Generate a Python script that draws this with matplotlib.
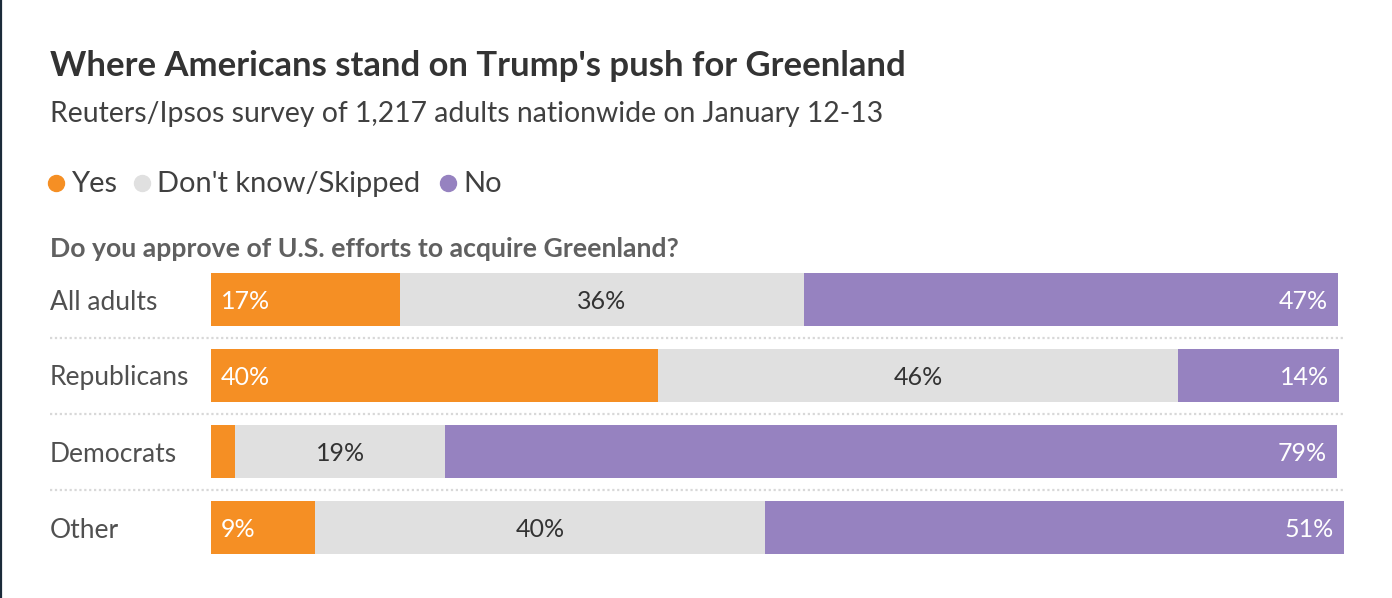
import numpy as np
import matplotlib.pyplot as plt
from matplotlib.lines import Line2D

# --- datos ---
groups = ['All adults', 'Republicans', 'Democrats', 'Other']
yes = [16.8, 39.7, 2.1, 9.2]
dont_know = [35.8, 46.1, 18.7, 40.0]
no = [47.4, 14.3, 79.1, 51.3]
yes_lbl = ['17%', '40%', '', '9%']
dk_lbl = ['36%', '46%', '19%', '40%']
no_lbl = ['47%', '14%', '79%', '51%']

c_yes = '#F58F24'
c_dk = '#E0E0E0'
c_no = '#9682C0'

W, H = 1392, 598
plt.rcParams['font.family'] = ['Lato', 'DejaVu Sans']

fig = plt.figure(figsize=(W / 100, H / 100), dpi=100)

def fx(px):
    return px / W

def fy(py):
    return 1 - py / H

# título y subtítulo
fig.text(fx(50), fy(76), "Where Americans stand on Trump's push for Greenland",
         fontsize=24.9, fontweight='bold', color='#333333', va='baseline')
fig.text(fx(50), fy(122), 'Reuters/Ipsos survey of 1,217 adults nationwide on January 12-13',
         fontsize=20.4, color='#404040', va='baseline')

# leyenda hecha a mano
leg = [('Yes', c_yes, 56, 72), ("Don't know/Skipped", c_dk, 142, 157), ('No', c_no, 448, 463)]
for name, col, dot_x, txt_x in leg:
    fig.add_artist(Line2D([fx(dot_x)], [fy(183)], marker='o', markersize=11.5,
                          color=col, linestyle='none', transform=fig.transFigure))
    fig.text(fx(txt_x), fy(192), name, fontsize=20.9, color='#404040', va='baseline')

fig.text(fx(50), fy(257), 'Do you approve of U.S. efforts to acquire Greenland?',
         fontsize=19.2, fontweight='bold', color='#606060', va='baseline')

# --- barras apiladas ---
ax = fig.add_axes([fx(211), fy(565.5), fx(1127), 304 / H])
y = np.arange(len(groups))
yes = np.array(yes)
dont_know = np.array(dont_know)
no = np.array(no)

ax.barh(y, yes, height=0.70, color=c_yes, clip_on=False)
ax.barh(y, dont_know, left=yes, height=0.70, color=c_dk, clip_on=False)
ax.barh(y, no, left=yes + dont_know, height=0.70, color=c_no, clip_on=False)

ax.set_xlim(0, 100)
ax.set_ylim(3.5, -0.5)
ax.axis('off')

for i in range(len(groups)):
    ax.text(-0.1429, i, groups[i], transform=ax.get_yaxis_transform(),
            fontsize=19, color='#505050', va='center_baseline', ha='left')
    ax.text(0.9, i, yes_lbl[i], fontsize=18, color='white',
            va='center_baseline', ha='left')
    ax.text(yes[i] + dont_know[i] / 2, i, dk_lbl[i], fontsize=18, color='#333333',
            va='center_baseline', ha='center')
    ax.text(yes[i] + dont_know[i] + no[i] - 0.9, i, no_lbl[i], fontsize=18,
            color='white', va='center_baseline', ha='right')

# separadores punteados
for i in range(len(groups) - 1):
    ax.plot([-0.1429, 1.0053], [i + 0.5, i + 0.5], transform=ax.get_yaxis_transform(),
            color='#D8D8D8', lw=1.6, linestyle=(0, (1, 1.2)), clip_on=False)

# borde izquierdo oscuro
fig.add_artist(Line2D([fx(1), fx(1)], [0, 1], color='#1B2B3A', lw=1.6,
                      transform=fig.transFigure))

fig.savefig('out.png', dpi=100, facecolor='white')
